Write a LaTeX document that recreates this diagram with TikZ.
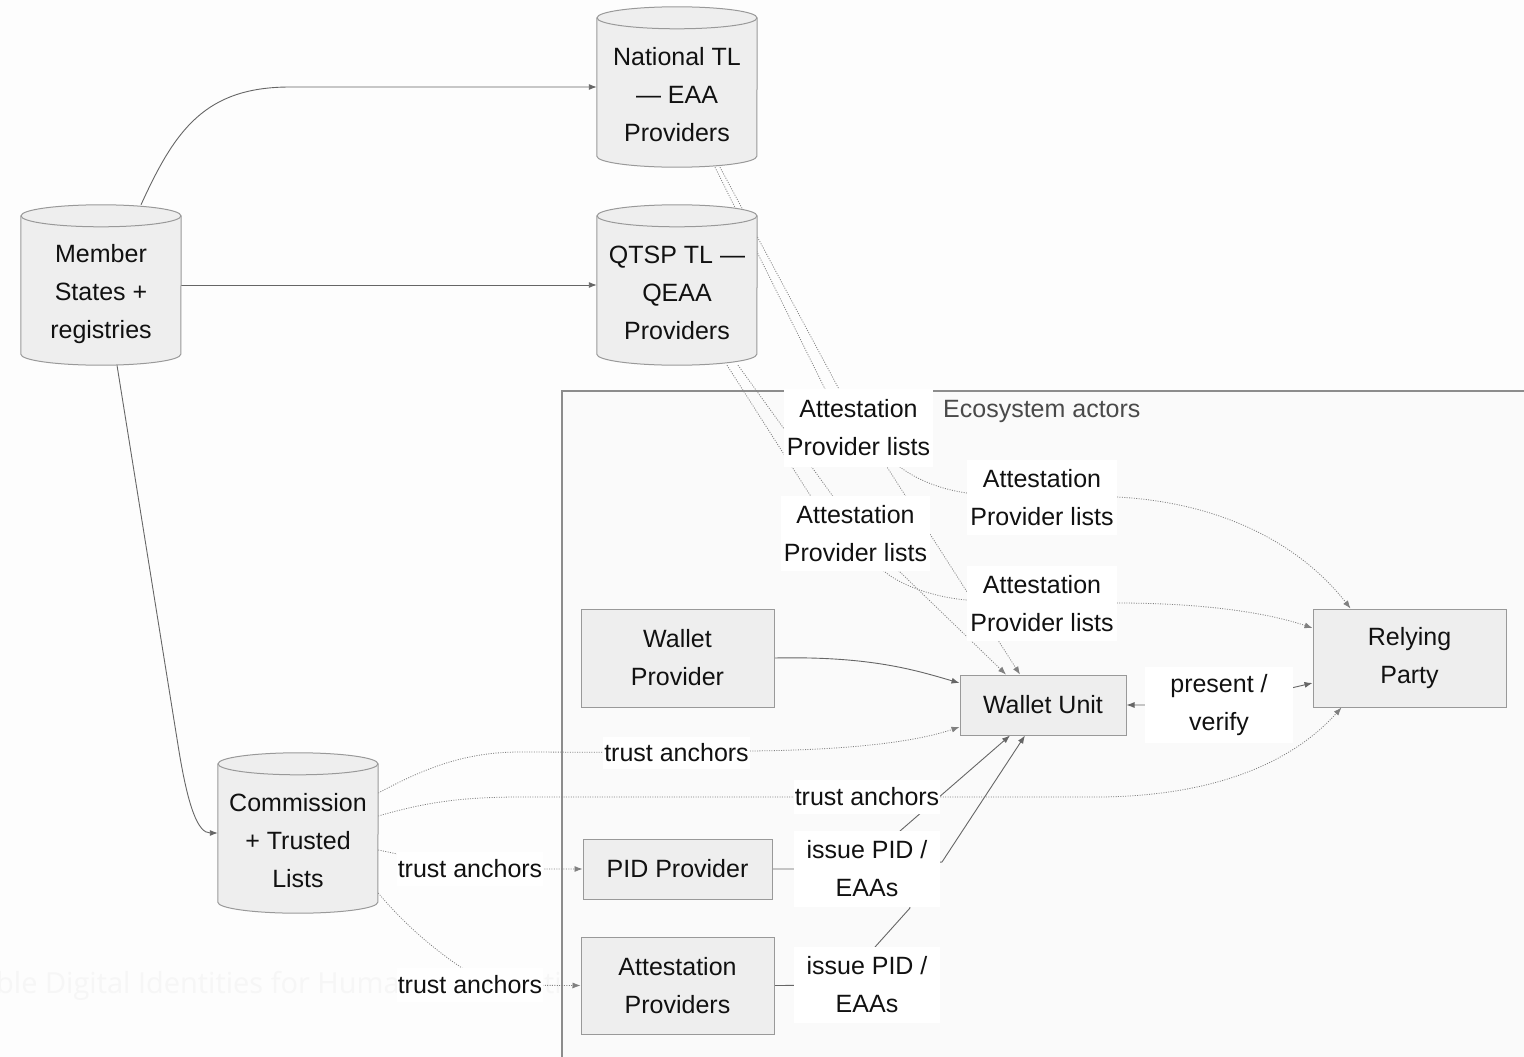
\documentclass[tikz,border=0pt]{standalone}
\usepackage{fontspec}
\setmainfont{Liberation Sans}
\newfontfamily\markfont{Open Sans}
\usetikzlibrary{arrows.meta,calc}

\definecolor{nodefill}{HTML}{EEEEEE}
\definecolor{nodeline}{HTML}{999999}
\definecolor{edgecol}{HTML}{666666}
\definecolor{dotcol}{HTML}{808080}
\definecolor{pagebg}{HTML}{FDFDFD}
\definecolor{clusterbg}{HTML}{FAFAFA}
\definecolor{clusterline}{HTML}{8C8C8C}
\definecolor{clustertext}{HTML}{4A4A4A}
\definecolor{inkcol}{HTML}{111111}
\definecolor{marktext}{HTML}{F6F6F6}

\pgfdeclarelayer{bg}
\pgfdeclarelayer{edgelayer}
\pgfdeclarelayer{fg}
\pgfsetlayers{bg,edgelayer,main,fg}

\tikzset{
  txt/.style={font=\fontsize{25}{38}\selectfont, text=inkcol, align=center},
  box/.style={txt, draw=nodeline, fill=nodefill, line width=1pt, inner sep=0pt},
  dbslot/.style={minimum width=160pt, minimum height=160pt, inner sep=0pt},
  lbl/.style={txt, fill=white, inner sep=0pt},
  link/.style={draw=edgecol, line width=0.9pt, arrows={-Latex[length=8pt,width=6pt]}},
  weak/.style={draw=dotcol, line width=0.8pt, dash pattern=on 1pt off 1.4pt,
               arrows={-Latex[length=8pt,width=6pt]}},
  twoway/.style={arrows={Latex[length=8pt,width=6pt]-Latex[length=8pt,width=6pt]}},
}

% database cylinder drawn around a named 160x160 slot
\newcommand\drawdb[1]{%
  \fill[nodefill] ([yshift=-11pt]#1.north west) -- ([yshift=11pt]#1.south west)
    arc[start angle=180, end angle=360, x radius=80pt, y radius=11pt]
    -- ([yshift=-11pt]#1.north east)
    arc[start angle=0, end angle=180, x radius=80pt, y radius=11pt] -- cycle;
  \draw[nodeline, line width=1pt] ([yshift=-11pt]#1.north west) -- ([yshift=11pt]#1.south west)
    arc[start angle=180, end angle=360, x radius=80pt, y radius=11pt]
    -- ([yshift=-11pt]#1.north east);
  \draw[nodeline, line width=1pt] ([yshift=-11pt]#1.north) ellipse [x radius=80pt, y radius=11pt];
}

\begin{document}
\begin{tikzpicture}[x=1pt, y=-1pt]
\useasboundingbox (0,0) rectangle (1524,1057);

% page, faint banner and the ecosystem cluster
\begin{pgfonlayer}{bg}
  \fill[pagebg] (0,0) rectangle (1524,1057);
  \node[anchor=west, inner sep=0pt, text=marktext, font=\markfont\fontsize{29}{34}\selectfont]
    (banner) at (-4,986) {ble Digital Identities for Humanitarian Action};
  \draw[clusterline, fill=clusterbg, line width=1.2pt] (562,391) rectangle (1540,1070);
  \node[anchor=west, inner sep=0pt, text=clustertext, font=\fontsize{25}{30}\selectfont]
    (eco) at (943,411) {Ecosystem actors};
\end{pgfonlayer}

% registries (cylinders)
\node[dbslot] (ms) at (101,285) {};
\drawdb{ms}
\node[txt] (mstext) at ([yshift=-9pt]ms.center) {Member\\States +\\registries};

\node[dbslot] (ntl) at (677,87) {};
\drawdb{ntl}
\node[txt] (ntltext) at ([yshift=-8pt]ntl.center) {National TL\\— EAA\\Providers};

\node[dbslot] (qtsp) at (677,285) {};
\drawdb{qtsp}
\node[txt] (qtsptext) at ([yshift=-8pt]qtsp.center) {QTSP TL —\\QEAA\\Providers};

\node[dbslot] (com) at (298,833) {};
\drawdb{com}
\node[txt] (comtext) at ([yshift=-8pt]com.center) {Commission\\+ Trusted\\Lists};

% ecosystem actors
\node[box, minimum width=193pt, minimum height=98pt] (wp) at (677.5,658) {Wallet\\Provider};
\node[box, minimum width=166pt, minimum height=60pt] (wu) at (1043,705) {Wallet Unit};
\node[box, minimum width=193pt, minimum height=98pt] (rp) at (1409.5,658) {Relying\\Party};
\node[box, minimum width=189pt, minimum height=60pt] (pid) at (677.5,869) {PID Provider};
\node[box, minimum width=193pt, minimum height=97pt] (ap) at (677.5,985.5) {Attestation\\Providers};

% edge labels
\begin{pgfonlayer}{fg}
  \node[lbl, minimum width=149pt, minimum height=78pt] (l1) at (858.5,428) {Attestation\\Provider lists};
  \node[lbl, minimum width=149pt, minimum height=75pt] (l2) at (855.5,533.5) {Attestation\\Provider lists};
  \node[lbl, minimum width=150pt, minimum height=75pt] (l3) at (1042,497.5) {Attestation\\Provider lists};
  \node[lbl, minimum width=150pt, minimum height=75pt] (l4) at (1042,603.5) {Attestation\\Provider lists};
  \node[lbl, minimum width=147pt, minimum height=32pt] (t1) at (676.5,752.5) {trust anchors};
  \node[lbl, minimum width=146pt, minimum height=34pt] (t2) at (867,797) {trust anchors};
  \node[lbl, minimum width=146pt, minimum height=34pt] (t3) at (470,869) {trust anchors};
  \node[lbl, minimum width=146pt, minimum height=34pt] (t4) at (470,985) {trust anchors};
  \node[lbl, minimum width=146pt, minimum height=76pt] (i1) at (867,869) {issue PID /\\EAAs};
  \node[lbl, minimum width=146pt, minimum height=76pt] (i2) at (867,985) {issue PID /\\EAAs};
  \node[lbl, minimum width=148pt, minimum height=76pt] (pv) at (1219,705) {present /\\verify};
\end{pgfonlayer}

% connectors
\begin{pgfonlayer}{edgelayer}
  % member states feed the lists
  \draw[link] ([xshift=40pt]ms.north) .. controls (175,130) and (205,87) .. (290,87) -- (ntl.west);
  \draw[link] (ms.east) -- (qtsp.west);
  \draw[link] ([xshift=16pt]ms.south) -- (178,745) .. controls (188,808) and (198,833) .. (com.west);

  % attestation provider lists
  \draw[weak] ([xshift=38pt]ntl.south) -- (826,391) -- (l1.center) -- (887,467) -- ([xshift=-23pt]wu.north);
  \draw[weak] ([xshift=43pt]ntl.south) -- (840,391) -- (900,467)
      .. controls (920,482) and (945,490) .. (967,493) -- (l3.center) -- (1117,497)
      .. controls (1230,503) and (1305,550) .. ([xshift=-59pt]rp.north);
  \draw[weak] ([xshift=61pt]qtsp.south) -- (832,495) -- (l2.center) -- (900,572) -- ([xshift=-37pt]wu.north);
  \draw[weak] ([xshift=50pt]qtsp.south) -- (810,495) -- (885,572)
      .. controls (905,588) and (940,598) .. (967,600) -- (l4.center) -- (1117,603)
      .. controls (1200,603) and (1265,612) .. ([yshift=30pt]rp.west);

  % trust anchors
  \draw[weak] ([yshift=40pt]com.east) .. controls (425,768) and (465,752) .. (520,752) -- (t1.center) -- (750,751)
      .. controls (850,750) and (915,742) .. ([yshift=-22pt]wu.west);
  \draw[weak] ([yshift=17pt]com.east) .. controls (420,804) and (455,797) .. (520,797) -- (t2.center) -- (1100,797)
      .. controls (1210,796) and (1290,765) .. ([xshift=-68pt]rp.south);
  \draw[weak] ([yshift=-17pt]com.east) -- (t3.center) -- (pid.west);
  \draw[weak] ([yshift=-60pt]com.east) .. controls (405,925) and (435,950) .. (462,968) -- (t4.center) -- (ap.west);

  % issuance and presentation
  \draw[link] (wp.east) .. controls (870,656) and (915,670) .. ([yshift=22pt]wu.west);
  \draw[link] (pid.east) -- (i1.center) -- (942,862) -- ([xshift=-18pt]wu.south);
  \draw[link] (ap.east) -- (i2.center) -- (875,947) -- (910,908) -- (900,831) -- ([xshift=-33pt]wu.south);
  \draw[link, twoway] (wu.east) -- (pv.center) -- ([yshift=-25pt]rp.west);
\end{pgfonlayer}
\end{tikzpicture}
\end{document}
